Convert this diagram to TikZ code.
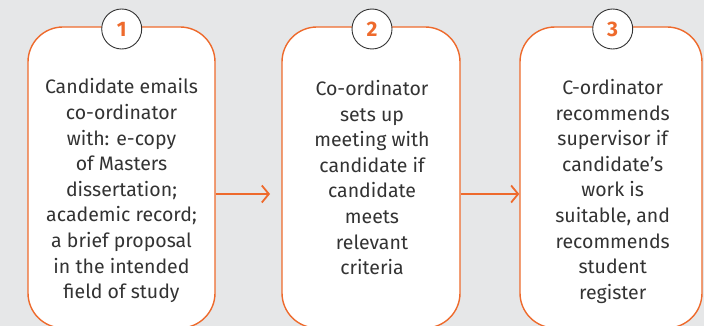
\documentclass[tikz,border=0pt]{standalone}
\usepackage{fontspec}
\setmainfont{Fira Sans}
\usetikzlibrary{arrows.meta}
\definecolor{bg}{HTML}{E6E7E8}
\definecolor{orng}{HTML}{EE6A2C}
\definecolor{txt}{HTML}{333333}
\tikzset{
  stepbox/.style={draw=orng, line width=1.4pt, fill=white, rounded corners=35pt, inner sep=0pt},
  numcirc/.style={circle, draw=txt, line width=0.9pt, fill=white, minimum size=40pt, inner sep=0pt,
    font=\fontsize{21}{22}\selectfont\bfseries, text=orng},
  steptext/.style={anchor=north, align=center, inner sep=0pt, text=txt,
    font=\fontsize{19.5}{25.6}\selectfont},
  flow/.style={draw=orng, line width=1.8pt, -{Straight Barb[length=7pt,width=17pt,line width=1.8pt]}}
}
\begin{document}
\begin{tikzpicture}[x=1pt,y=-1pt]
\fill[bg] (0,0) rectangle (704,326);
\useasboundingbox (0,0) rectangle (704,326);
\node[stepbox, minimum width=187pt, minimum height=301pt] (b1) at (121.5,177.5) {};
\node[stepbox, minimum width=178pt, minimum height=301pt] (b2) at (371,177.5) {};
\node[stepbox, minimum width=182pt, minimum height=301pt] (b3) at (611,177.5) {};
\node[numcirc] (c1) at (121.7,29) {1};
\node[numcirc] (c2) at (372,29) {2};
\node[numcirc] (c3) at (612.7,29) {3};
\node[steptext] (t1) at (121.5,78.5) {Candidate emails\\co-ordinator\\with: e-copy\\of Masters\\dissertation;\\academic record;\\a brief proposal\\in the intended\\field of study};
\node[steptext] (t2) at (372,80) {Co-ordinator\\sets up\\meeting with\\candidate if\\candidate\\meets\\relevant\\criteria};
\node[steptext] (t3) at (612.7,79) {C-ordinator\\recommends\\supervisor if\\candidate’s\\work is\\suitable, and\\recommends\\student\\register};
\coordinate (a1end) at (270,194);
\draw[flow] (b1.east |- a1end) -- (a1end);
\draw[flow] (b2.east |- a1end) -- (b3.west |- a1end);
\end{tikzpicture}
\end{document}
